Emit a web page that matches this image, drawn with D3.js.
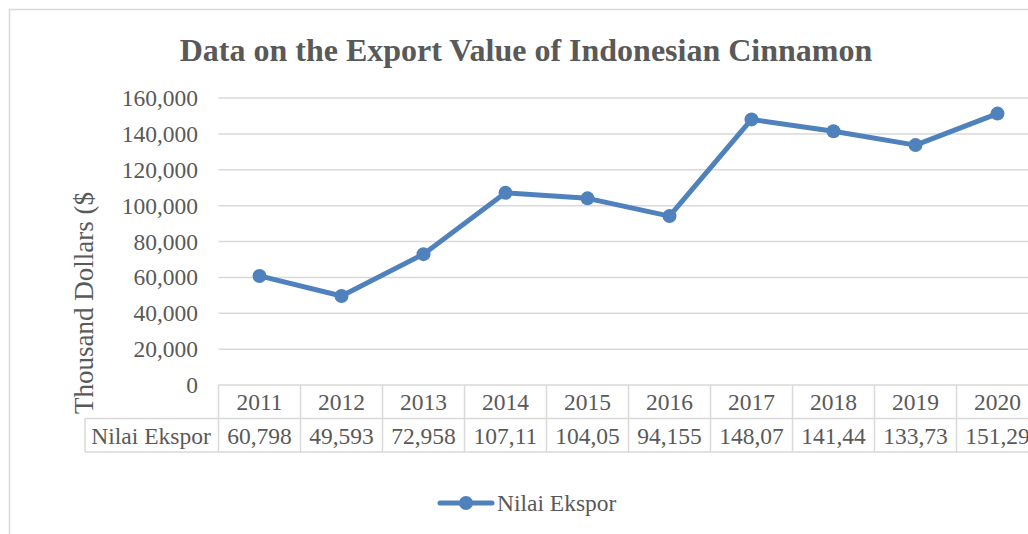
<!DOCTYPE html>
<html><head><meta charset="utf-8">
<script src="https://cdn.jsdelivr.net/npm/d3@7"></script>
<style>html,body{margin:0;padding:0;background:#fff;overflow:hidden}</style>
</head><body>
<svg id="c" width="1028" height="534"></svg>
<script>
const years = ["2011","2012","2013","2014","2015","2016","2017","2018","2019","2020"];
const values = [60798, 49593, 72958, 107110, 104050, 94155, 148070, 141440, 133730, 151290];
const tableLabels = ["60,798","49,593","72,958","107,11","104,05","94,155","148,07","141,44","133,73","151,29"];
const yTicks = [0,20000,40000,60000,80000,100000,120000,140000,160000];
const seriesName = "Nilai Ekspor";
const title = "Data on the Export Value of Indonesian Cinnamon";
const yTitle = "Thousand Dollars ($";

const svg = d3.select("#c");
const font = "'Liberation Serif','Times New Roman',serif";
const txt = "#595959", grid = "#d9d9d9", blue = "#4F81BD";
const fs = 23.5;

// chart border
svg.append("path").attr("d","M9.5,534 L9.5,9.5 L1028,9.5").attr("fill","none").attr("stroke",grid).attr("stroke-width",1.5);

svg.append("text").attr("x",526).attr("y",61).attr("text-anchor","middle")
  .attr("font-family",font).attr("font-weight","bold").attr("font-size",32).attr("fill",txt).text(title);

const left = 218.5, cellW = 82;
const x = d3.scaleBand().domain(years).range([left, left + cellW*years.length]);
const y = d3.scaleLinear().domain([0,160000]).range([385,98]);

// gridlines
svg.append("g").selectAll("line").data(yTicks.filter(d=>d>0)).join("line")
  .attr("x1",left).attr("x2",1028).attr("y1",d=>y(d)).attr("y2",d=>y(d))
  .attr("stroke",grid).attr("stroke-width",1.5);

// y axis labels
const ya = svg.append("g").attr("transform","translate(198,0)")
  .call(d3.axisLeft(y).tickValues(yTicks).tickSize(0).tickPadding(0).tickFormat(d3.format(",")));
ya.select(".domain").remove();
ya.selectAll("text").attr("font-family",font).attr("font-size",fs).attr("fill",txt).attr("dy","0.32em");

svg.append("text").attr("transform","translate(93,303) rotate(-90)").attr("text-anchor","middle")
  .attr("font-family",font).attr("font-size",27).attr("fill",txt).text(yTitle);

// data table
const tb = svg.append("g").attr("stroke",grid).attr("stroke-width",1.5).attr("fill","none");
tb.append("line").attr("x1",left).attr("x2",1028).attr("y1",385).attr("y2",385);
tb.append("line").attr("x1",85).attr("x2",1028).attr("y1",418.5).attr("y2",418.5);
tb.append("line").attr("x1",85).attr("x2",1028).attr("y1",452).attr("y2",452);
tb.append("line").attr("x1",85).attr("x2",85).attr("y1",418.5).attr("y2",452);
tb.selectAll("line.v").data(years).join("line").attr("class","v")
  .attr("x1",d=>x(d)).attr("x2",d=>x(d)).attr("y1",385).attr("y2",452);

svg.append("g").selectAll("text").data(years).join("text")
  .attr("x",d=>x(d)+x.bandwidth()/2).attr("y",410).attr("text-anchor","middle")
  .attr("font-family",font).attr("font-size",fs).attr("fill",txt).text(d=>d);
svg.append("g").selectAll("text").data(tableLabels).join("text")
  .attr("x",(d,i)=>x(years[i])+x.bandwidth()/2).attr("y",444).attr("text-anchor","middle")
  .attr("font-family",font).attr("font-size",fs).attr("fill",txt).text(d=>d);
svg.append("text").attr("x",151).attr("y",444).attr("text-anchor","middle")
  .attr("font-family",font).attr("font-size",fs).attr("fill",txt).text(seriesName);

// line
const cx = (d,i)=>x(years[i])+x.bandwidth()/2;
svg.append("path").datum(values)
  .attr("d", d3.line().x(cx).y(d=>y(d)))
  .attr("fill","none").attr("stroke",blue).attr("stroke-width",5).attr("stroke-linejoin","round").attr("stroke-linecap","round");
svg.append("g").selectAll("circle").data(values).join("circle")
  .attr("cx",cx).attr("cy",d=>y(d)).attr("r",7).attr("fill",blue);

// legend
svg.append("line").attr("x1",440).attr("x2",492).attr("y1",503).attr("y2",503)
  .attr("stroke",blue).attr("stroke-width",5).attr("stroke-linecap","round");
svg.append("circle").attr("cx",466).attr("cy",503).attr("r",7).attr("fill",blue);
svg.append("text").attr("x",497).attr("y",511).attr("font-family",font).attr("font-size",fs).attr("fill",txt).text(seriesName);
</script>
</body></html>
